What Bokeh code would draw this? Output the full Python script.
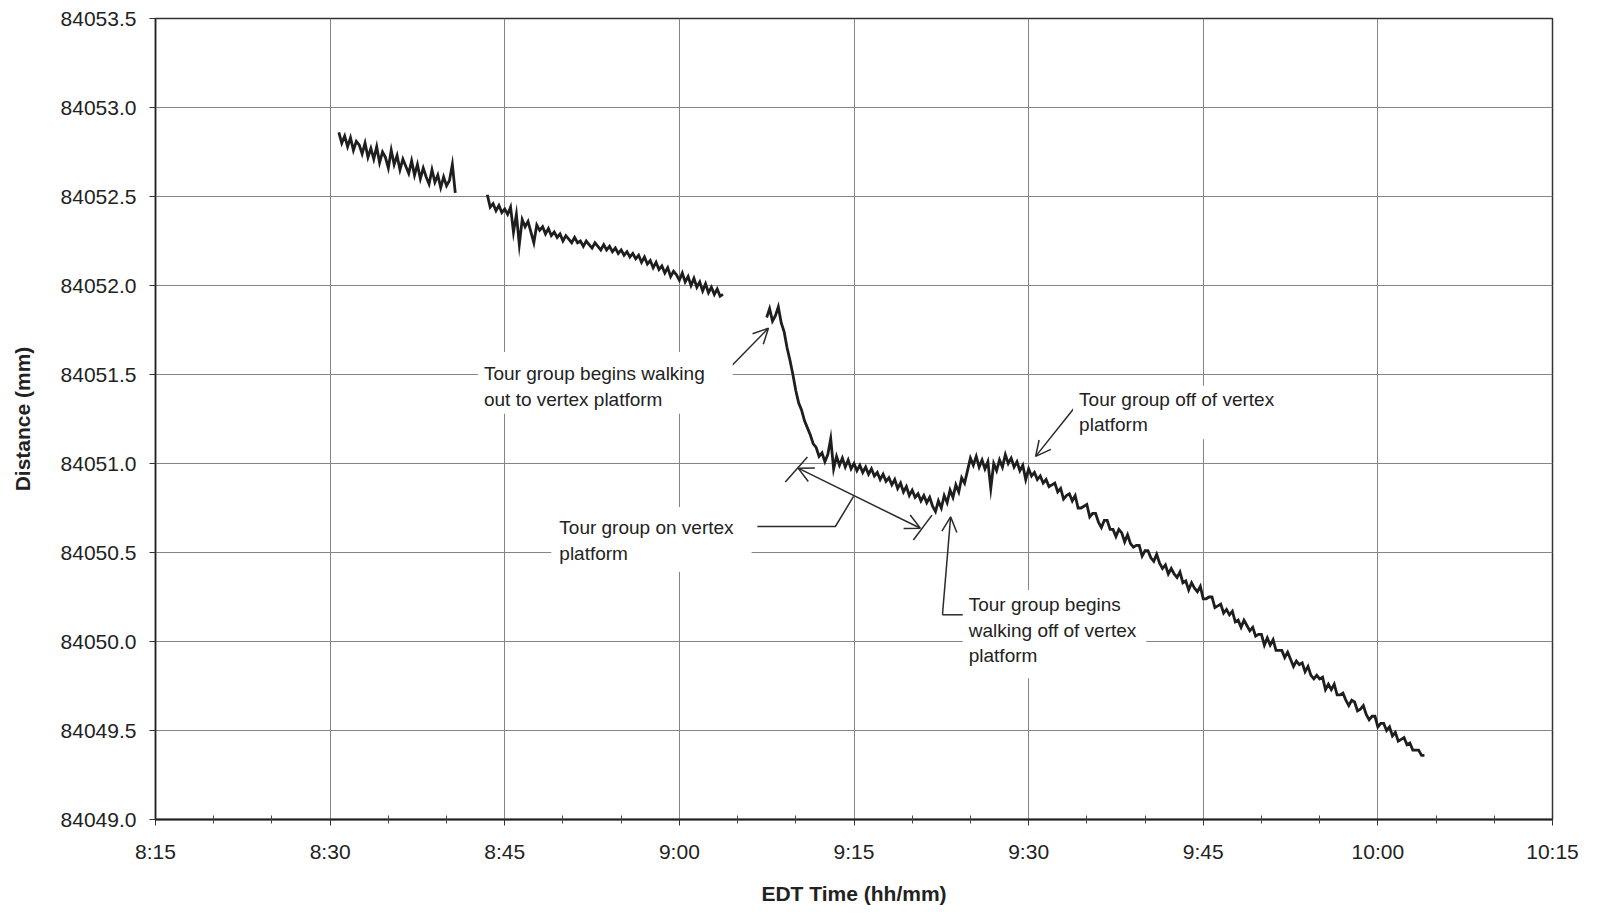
import numpy as np
from bokeh.plotting import figure
from bokeh.models import FixedTicker, NumeralTickFormatter, Label, Arrow, OpenHead, Range1d
from bokeh.embed import file_html
from bokeh.resources import INLINE

# ---------------- data ----------------
# time axis in minutes after midnight (EDT)
x_ticks = [495, 510, 525, 540, 555, 570, 585, 600, 615]
x_tick_labels = ["8:15", "8:30", "8:45", "9:00", "9:15", "9:30", "9:45", "10:00", "10:15"]
x_minor_ticks = [500, 505, 515, 520, 530, 535, 545, 550, 560, 565, 575, 580,
                 590, 595, 605, 610]
y_ticks = [84049.0, 84049.5, 84050.0, 84050.5, 84051.0, 84051.5,
           84052.0, 84052.5, 84053.0, 84053.5]

sample_step = 0.25  # minutes between readings

seg_a_start = 510.75
seg_a_values = [
    84052.86, 84052.80, 84052.84, 84052.78, 84052.83, 84052.76, 84052.81, 84052.79, 84052.74, 84052.80,
    84052.72, 84052.77, 84052.71, 84052.78, 84052.69, 84052.75, 84052.72, 84052.66, 84052.76, 84052.68,
    84052.73, 84052.65, 84052.71, 84052.67, 84052.63, 84052.70, 84052.62, 84052.68, 84052.60, 84052.66,
    84052.61, 84052.57, 84052.65, 84052.58, 84052.62, 84052.55, 84052.61, 84052.56, 84052.59, 84052.68,
    84052.52,
]

seg_b_start = 523.5
seg_b_values = [
    84052.51, 84052.44, 84052.46, 84052.42, 84052.45, 84052.41, 84052.43, 84052.40, 84052.44, 84052.30,
    84052.40, 84052.23, 84052.37, 84052.33, 84052.36, 84052.30, 84052.24, 84052.34, 84052.31, 84052.33,
    84052.29, 84052.32, 84052.28, 84052.30, 84052.27, 84052.29, 84052.25, 84052.28, 84052.26, 84052.24,
    84052.27, 84052.24, 84052.25, 84052.22, 84052.25, 84052.23, 84052.21, 84052.24, 84052.22, 84052.20,
    84052.23, 84052.20, 84052.22, 84052.19, 84052.21, 84052.18, 84052.20, 84052.17, 84052.19, 84052.16,
    84052.18, 84052.15, 84052.17, 84052.13, 84052.16, 84052.12, 84052.14, 84052.10, 84052.13, 84052.09,
    84052.11, 84052.07, 84052.10, 84052.05, 84052.08, 84052.06, 84052.03, 84052.07, 84052.02, 84052.05,
    84052.00, 84052.04, 84051.99, 84052.02, 84051.97, 84052.01, 84051.96, 84051.99, 84051.95, 84051.98,
    84051.94, 84051.95,
]

seg_c_start = 547.5
seg_c_values = [
    84051.82, 84051.87, 84051.80, 84051.83, 84051.88, 84051.79, 84051.74, 84051.65, 84051.58, 84051.50,
    84051.41, 84051.34, 84051.30, 84051.24, 84051.20, 84051.16, 84051.11, 84051.09, 84051.04, 84051.06,
    84051.01, 84051.05, 84051.14, 84050.97, 84051.04, 84050.99, 84051.03, 84050.98, 84051.02, 84050.97,
    84051.00, 84050.96, 84050.99, 84050.95, 84050.98, 84050.94, 84050.97, 84050.93, 84050.95, 84050.91,
    84050.94, 84050.90, 84050.92, 84050.88, 84050.91, 84050.86, 84050.89, 84050.84, 84050.87, 84050.82,
    84050.85, 84050.81, 84050.83, 84050.79, 84050.82, 84050.78, 84050.81, 84050.76, 84050.73, 84050.79,
    84050.75, 84050.82, 84050.78, 84050.85, 84050.81, 84050.88, 84050.84, 84050.92, 84050.89, 84050.96,
    84051.03, 84050.99, 84051.04, 84050.98, 84051.02, 84050.97, 84051.01, 84050.86, 84051.00, 84050.96,
    84051.02, 84050.98, 84051.05, 84051.00, 84051.03, 84050.98, 84051.01, 84050.96, 84050.99, 84050.91,
    84050.97, 84050.93, 84050.95, 84050.91, 84050.93, 84050.89, 84050.91, 84050.87, 84050.88,
    84050.89, 84050.84, 84050.86, 84050.80, 84050.82, 84050.83, 84050.79, 84050.82, 84050.75, 84050.75,
    84050.76, 84050.77, 84050.70, 84050.72, 84050.72, 84050.67, 84050.64, 84050.68, 84050.68, 84050.63,
    84050.63, 84050.59, 84050.63, 84050.61, 84050.56, 84050.60, 84050.55, 84050.53, 84050.54, 84050.54,
    84050.48, 84050.51, 84050.51, 84050.47, 84050.45, 84050.49, 84050.44, 84050.41, 84050.43, 84050.38,
    84050.41, 84050.38, 84050.36, 84050.39, 84050.33, 84050.34, 84050.29, 84050.33, 84050.30, 84050.28,
    84050.31, 84050.24, 84050.24, 84050.25, 84050.25, 84050.19, 84050.20, 84050.21, 84050.16, 84050.18,
    84050.15, 84050.17, 84050.11, 84050.12, 84050.08, 84050.12, 84050.09, 84050.06, 84050.08, 84050.03,
    84050.04, 84050.04, 84049.98, 84050.02, 84049.98, 84050.01, 84049.95, 84049.95, 84049.95, 84049.91,
    84049.94, 84049.90, 84049.86, 84049.89, 84049.87, 84049.88, 84049.83, 84049.86, 84049.81, 84049.79,
    84049.81, 84049.79, 84049.80, 84049.73, 84049.76, 84049.73, 84049.76, 84049.70, 84049.70, 84049.71,
    84049.67, 84049.64, 84049.67, 84049.66, 84049.61, 84049.62, 84049.64, 84049.59, 84049.56, 84049.58,
    84049.58, 84049.52, 84049.54, 84049.54, 84049.50, 84049.52, 84049.47, 84049.49, 84049.44, 84049.45,
    84049.46, 84049.42, 84049.43, 84049.39, 84049.39, 84049.39, 84049.36, 84049.36,
]

# annotations: text box top-left corner (minutes, mm); padding (left, right, top, bottom)
ann_texts = [
    "Tour group begins walking\nout to vertex platform",
    "Tour group on vertex\nplatform",
    "Tour group off of vertex\nplatform",
    "Tour group begins\nwalking off of vertex\nplatform",
]
ann_x = [522.7, 529.0, 573.82, 564.34]
ann_y = [84051.626, 84050.755, 84051.437, 84050.289]
ann_pad = [(6, 28, 11, 4), (8, 18, 10, 8), (6, 8, 3, 4), (6, 10, 4, 12)]

arrow1 = (544.2, 84051.53, 547.65, 84051.76)
arrow3 = (573.9, 84051.31, 570.6, 84051.04)
arrow4 = (562.6, 84050.15, 563.3, 84050.70)
span_arrow = (550.2, 84050.974, 560.7, 84050.636)
span_bar_left = ([549.1, 551.0], [84050.896, 84051.036])
span_bar_right = ([560.1, 561.7], [84050.57, 84050.71])
conn2_x = [546.7, 553.4, 554.96]
conn2_y = [84050.646, 84050.646, 84050.815]
conn4_x = [562.6, 564.4]
conn4_y = [84050.15, 84050.15]

# ---------------- figure ----------------
FONT = "Liberation Sans"
INK = "#1e1e1e"

p = figure(width=1592, height=907, output_backend="svg", toolbar_location=None,
           x_range=Range1d(495, 615), y_range=Range1d(84049.0, 84053.5),
           min_border_left=155, min_border_right=40, min_border_top=18,
           min_border_bottom=88)
p.background_fill_color = "white"
p.border_fill_color = "white"
p.outline_line_color = "#333333"
p.outline_line_width = 1.5

p.xaxis.ticker = FixedTicker(ticks=x_ticks, minor_ticks=x_minor_ticks)
p.xaxis.major_label_overrides = {t: lab for t, lab in zip(x_ticks, x_tick_labels)}
p.yaxis.ticker = FixedTicker(ticks=y_ticks)
p.yaxis.formatter = NumeralTickFormatter(format="0.0")

p.xaxis.axis_label = "EDT Time (hh/mm)"
p.yaxis.axis_label = "Distance (mm)"
for ax in (p.xaxis, p.yaxis):
    ax.axis_label_text_font = FONT
    ax.axis_label_text_font_style = "bold"
    ax.axis_label_text_font_size = "21px"
    ax.axis_label_text_color = "#222222"
    ax.major_label_text_font = FONT
    ax.major_label_text_font_size = "21px"
    ax.major_label_text_color = "#222222"
    ax.axis_line_color = "#222222"
    ax.major_tick_line_color = "#333333"
    ax.minor_tick_line_color = "#444444"
    ax.major_tick_in = 0
    ax.major_tick_out = 6
p.xaxis.axis_line_width = 2
p.yaxis.axis_line_width = 1.5
p.xaxis.minor_tick_in = 4
p.xaxis.minor_tick_out = 4
p.yaxis.minor_tick_line_color = None
p.xaxis.major_label_standoff = 14
p.yaxis.major_label_standoff = 13
p.xaxis.axis_label_standoff = 16
p.yaxis.axis_label_standoff = 24

p.grid.grid_line_color = "#858585"
p.grid.grid_line_width = 1

for start, vals in ((seg_a_start, seg_a_values), (seg_b_start, seg_b_values),
                    (seg_c_start, seg_c_values)):
    t = start + sample_step * np.arange(len(vals))
    p.line(t, vals, line_color=INK, line_width=2.8, line_join="miter")

# annotation lines
ARROW_C = "#2a2a2a"
for (x0, y0, x1, y1) in (arrow1, arrow3, arrow4):
    p.add_layout(Arrow(x_start=x0, y_start=y0, x_end=x1, y_end=y1,
                       line_color=ARROW_C, line_width=1.5,
                       end=OpenHead(size=15, line_color=ARROW_C, line_width=1.5)))
x0, y0, x1, y1 = span_arrow
p.add_layout(Arrow(x_start=x0, y_start=y0, x_end=x1, y_end=y1,
                   line_color=ARROW_C, line_width=1.5,
                   start=OpenHead(size=15, line_color=ARROW_C, line_width=1.5),
                   end=OpenHead(size=15, line_color=ARROW_C, line_width=1.5)))
p.line(span_bar_left[0], span_bar_left[1], line_color=ARROW_C, line_width=1.5)
p.line(span_bar_right[0], span_bar_right[1], line_color=ARROW_C, line_width=1.5)
p.line(conn2_x, conn2_y, line_color=ARROW_C, line_width=1.5)
p.line(conn4_x, conn4_y, line_color=ARROW_C, line_width=1.5)

for txt, ax_, ay_, pad in zip(ann_texts, ann_x, ann_y, ann_pad):
    p.add_layout(Label(x=ax_, y=ay_, text=txt, text_font=FONT,
                       text_font_size="19px", text_color="#222222",
                       text_align="left", text_baseline="top",
                       text_line_height=1.22,
                       background_fill_color="white", padding=pad))

open("out.html", "w").write(file_html(p, INLINE))
